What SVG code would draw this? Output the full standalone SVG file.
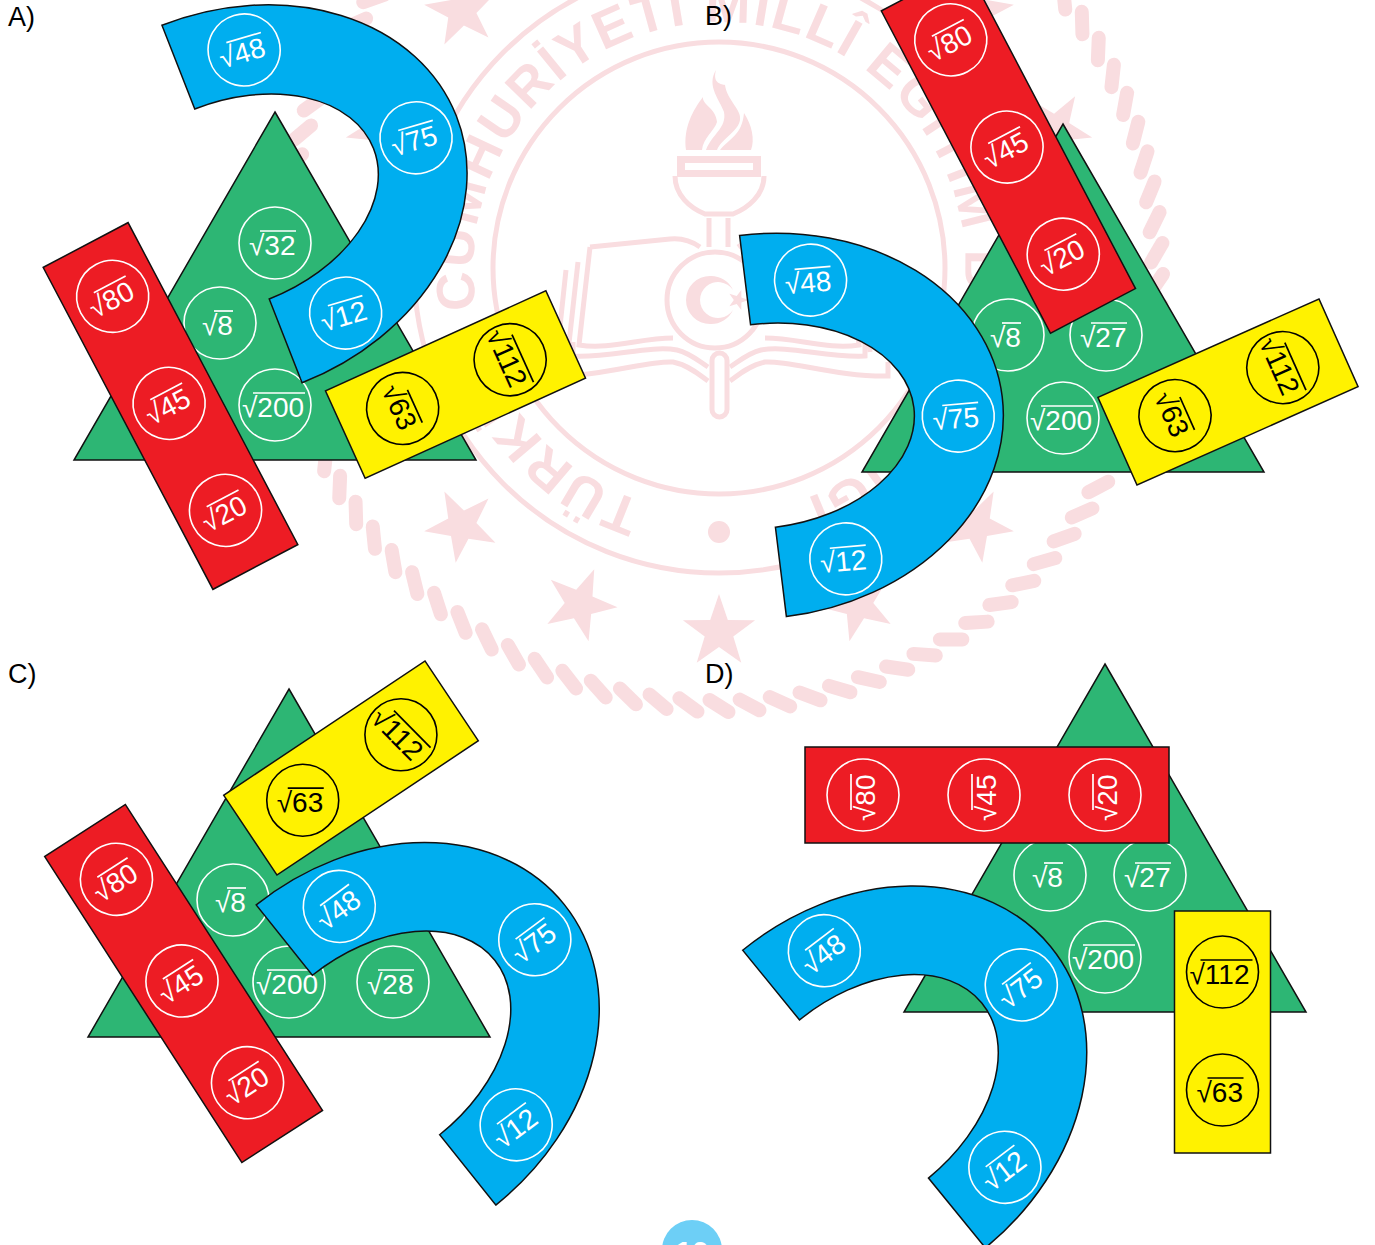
<svg xmlns="http://www.w3.org/2000/svg" xmlns:xlink="http://www.w3.org/1999/xlink" width="1375" height="1245" viewBox="0 0 1375 1245">
<style>
text{font-family:"Liberation Sans",Arial,sans-serif}
.wm{fill:#f9dde0;stroke:none}
.wl{fill:none;stroke:#f9dde0;stroke-width:5}
.wt{font-size:54px;font-weight:700;fill:#f9dde0}
.lb{font-size:27px;fill:#000}
.g,.r,.y,.s{stroke:#111;stroke-width:1.5}
.g{fill:#2db674}.r{fill:#ed1c24}.y{fill:#fff200}.s{fill:#00aeef}
.t circle{fill:none;stroke:#fff;stroke-width:1.6}
.t text{font-size:28px;fill:#fff}
.t path{fill:none;stroke:#fff;stroke-width:1.7}
.k circle{stroke:#000}.k text{fill:#000}.k path{stroke:#000}
</style>
<defs>
<line id="bead" x1="-9.5" y1="-444" x2="9.5" y2="-432" stroke="#f9dde0" stroke-width="14" stroke-linecap="round"/>
<g id="b3"><use href="#bead"/><use href="#bead" transform="rotate(4)"/><use href="#bead" transform="rotate(8)"/></g>
<g id="b9"><use href="#b3"/><use href="#b3" transform="rotate(12)"/><use href="#b3" transform="rotate(24)"/></g>
<polygon id="star" class="wm" points="0,38 -8.8,12.1 -36.1,11.7 -14.3,-4.6 -22.3,-30.7 0,-15 22.3,-30.7 14.3,-4.6 36.1,11.7 8.8,12.1"/>
<g id="page">
<path class="wl" d="M590 247L670 239C680 238 690 240 700 247"/>
<path class="wl" d="M590 247L579 345C610 350 640 338 673 338"/>
<path class="wl" d="M578 262L568 352M566 270L558 345"/>
<path class="wl" d="M573 342V356C610 358 650 345 677 350C690 353 700 362 708 367"/>
<path class="wl" d="M550 362V376C600 377 650 360 673 362C688 365 700 375 708 381"/>
</g>
<path id="blue" class="s" d="M0-192A241 192 0 0 1 0 192L0 102A152 102 0 0 0 0-102Z"/>
<rect id="redbar" class="r" x="-48" y="-182" width="96" height="364"/>
<rect id="yelbar" class="y" x="-48" y="-121" width="96" height="242"/>
<path id="tri" class="g" d="M0 0L201 348H-201Z"/>
</defs>
<rect width="1375" height="1245" fill="#fff"/>
<g id="watermark">
<g transform="translate(719 268)">
<use href="#b9"/><use href="#b9" transform="rotate(36)"/><use href="#b9" transform="rotate(72)"/><use href="#b9" transform="rotate(108)"/><use href="#b9" transform="rotate(144)"/><use href="#b9" transform="rotate(180)"/><use href="#b9" transform="rotate(216)"/><use href="#b9" transform="rotate(252)"/><use href="#b9" transform="rotate(288)"/><use href="#b9" transform="rotate(324)"/>
<use href="#star" transform="rotate(180) translate(0 -364)"/>
<use href="#star" transform="rotate(157.5) translate(0 -364)"/>
<use href="#star" transform="rotate(202.5) translate(0 -364)"/>
<use href="#star" transform="rotate(135) translate(0 -364)"/>
<use href="#star" transform="rotate(225) translate(0 -364)"/>
<use href="#star" transform="rotate(67.5) translate(0 -364)"/>
<use href="#star" transform="rotate(-67.5) translate(0 -364)"/>
<use href="#star" transform="rotate(45) translate(0 -364)"/>
<use href="#star" transform="rotate(-45) translate(0 -364)"/>
<circle class="wl" r="226" stroke-width="7"/>
<circle class="wl" r="305"/>
<circle class="wm" cy="264" r="11"/>
</g>
<path id="sealtext" fill="none" d="M643 502A246 246 0 1 1 807 498"/>
<text class="wt" textLength="1378"><textPath href="#sealtext">TÜRKİYE CUMHURİYETİ MİLLÎ EĞİTİM BAKANLIĞI</textPath></text>
<path class="wm" d="M686 150C683 128 693 110 703 97C702 105 716 108 717 122C715 130 703 138 702 150Z"/>
<path class="wm" d="M706 150C712 134 727 128 724 112C720 100 706 86 716 70C712 84 722 84 725 85C727 100 742 110 740 120C738 132 722 138 717 150Z"/>
<path class="wm" d="M720 150C730 138 742 135 744 113C752 125 755 140 751 150Z"/>
<path class="wm" fill-rule="evenodd" d="M677 156H761V177H677ZM685 163V170H753V163Z"/>
<path class="wl" d="M675 176C675 195 690 208 705 214H733C748 208 764 195 764 176"/>
<path class="wl" d="M709 218V247M728 218V247"/>
<circle class="wl" cx="715" cy="300" r="48"/>
<path class="wm" fill-rule="evenodd" d="M710 276A24 24 0 1 0 710 324A24 24 0 0 0 733 310A18 18 0 1 1 733 290A24 24 0 0 0 710 276Z"/>
<use href="#star" transform="translate(738 300) rotate(-90) scale(.28)"/>
<use href="#page"/>
<use href="#page" transform="translate(1438 0) scale(-1 1)"/>
<rect class="wl" x="712" y="353" width="15" height="64" rx="7.5"/>
</g>

<g id="option-A">
<text class="lb" x="8" y="26">A)</text>
<use href="#tri" transform="translate(275 112)"/>
<g class="t" transform="translate(275 243)"><circle r="36"/><text x="-26" y="12">√32</text><path d="M-15-12H21"/></g>
<g class="t" transform="translate(220 323)"><circle r="36"/><text x="-18" y="12">√8</text><path d="M-6-12H13"/></g>
<g class="t" transform="translate(275 405)"><circle r="36"/><text x="-33" y="12">√200</text><path d="M-22-12H30"/></g>
<g transform="translate(170.5 406) rotate(-27.8)"><use href="#redbar"/>
<g class="t" transform="translate(0 -124)"><circle r="36"/><text x="-26" y="12">√80</text><path d="M-15-12H21"/></g>
<g class="t" transform="translate(0 -3)"><circle r="36"/><text x="-26" y="12">√45</text><path d="M-15-12H21"/></g>
<g class="t" transform="translate(0 118)"><circle r="36"/><text x="-26" y="12">√20</text><path d="M-15-12H21"/></g></g>
<g transform="translate(232 204) rotate(-21.4)"><use href="#blue"/>
<g class="t" transform="translate(67.5 -139) rotate(5)"><circle r="36"/><text x="-26" y="12">√48</text><path d="M-15-12H21"/></g>
<g class="t" transform="translate(195.5 5.5) rotate(5)"><circle r="36"/><text x="-26" y="12">√75</text><path d="M-15-12H21"/></g>
<g class="t" transform="translate(66 143) rotate(5)"><circle r="36"/><text x="-26" y="12">√12</text><path d="M-15-12H21"/></g></g>
<g transform="translate(455.5 384.5) rotate(65.6)"><use href="#yelbar"/>
<g class="t k" transform="translate(0 -60)"><circle r="36"/><text x="-33" y="12">√112</text><path d="M-22-12H30"/></g>
<g class="t k" transform="translate(0 58)"><circle r="36"/><text x="-26" y="12">√63</text><path d="M-15-12H21"/></g></g>
</g>

<g id="option-B">
<text class="lb" x="705" y="25">B)</text>
<use href="#tri" transform="translate(1063 124)"/>
<g class="t" transform="translate(1008 335)"><circle r="36"/><text x="-18" y="12">√8</text><path d="M-6-12H13"/></g>
<g class="t" transform="translate(1106 335)"><circle r="36"/><text x="-26" y="12">√27</text><path d="M-15-12H21"/></g>
<g class="t" transform="translate(1063 418)"><circle r="36"/><text x="-33" y="12">√200</text><path d="M-22-12H30"/></g>
<g transform="translate(1008.4 149.7) rotate(-27.7)"><use href="#redbar"/>
<g class="t" transform="translate(0 -124)"><circle r="36"/><text x="-26" y="12">√80</text><path d="M-15-12H21"/></g>
<g class="t" transform="translate(0 -3)"><circle r="36"/><text x="-26" y="12">√45</text><path d="M-15-12H21"/></g>
<g class="t" transform="translate(0 118)"><circle r="36"/><text x="-26" y="12">√20</text><path d="M-15-12H21"/></g></g>
<g transform="translate(763 426) rotate(-7)"><use href="#blue"/>
<g class="t" transform="translate(65 -139) rotate(2)"><circle r="36"/><text x="-26" y="12">√48</text><path d="M-15-12H21"/></g>
<g class="t" transform="translate(195 14) rotate(2)"><circle r="36"/><text x="-26" y="12">√75</text><path d="M-15-12H21"/></g>
<g class="t" transform="translate(66 142) rotate(2)"><circle r="36"/><text x="-26" y="12">√12</text><path d="M-15-12H21"/></g></g>
<g transform="translate(1228 392) rotate(66)"><use href="#yelbar"/>
<g class="t k" transform="translate(0 -60)"><circle r="36"/><text x="-33" y="12">√112</text><path d="M-22-12H30"/></g>
<g class="t k" transform="translate(0 58)"><circle r="36"/><text x="-26" y="12">√63</text><path d="M-15-12H21"/></g></g>
</g>

<g id="option-C">
<text class="lb" x="8" y="683">C)</text>
<use href="#tri" transform="translate(289 689)"/>
<g class="t" transform="translate(233 900)"><circle r="36"/><text x="-18" y="12">√8</text><path d="M-6-12H13"/></g>
<g class="t" transform="translate(289 982)"><circle r="36"/><text x="-33" y="12">√200</text><path d="M-22-12H30"/></g>
<g class="t" transform="translate(393 982)"><circle r="36"/><text x="-26" y="12">√28</text><path d="M-15-12H21"/></g>
<g transform="translate(183.6 983.5) rotate(-32.8)"><use href="#redbar"/>
<g class="t" transform="translate(0 -124)"><circle r="36"/><text x="-26" y="12">√80</text><path d="M-15-12H21"/></g>
<g class="t" transform="translate(0 -3)"><circle r="36"/><text x="-26" y="12">√45</text><path d="M-15-12H21"/></g>
<g class="t" transform="translate(0 118)"><circle r="36"/><text x="-26" y="12">√20</text><path d="M-15-12H21"/></g></g>
<g transform="translate(376 1055) rotate(-38.6)"><use href="#blue"/>
<g class="t" transform="translate(64 -139) rotate(2)"><circle r="36"/><text x="-26" y="12">√48</text><path d="M-15-12H21"/></g>
<g class="t" transform="translate(196 9) rotate(2)"><circle r="36"/><text x="-26" y="12">√75</text><path d="M-15-12H21"/></g>
<g class="t" transform="translate(66 142) rotate(2)"><circle r="36"/><text x="-26" y="12">√12</text><path d="M-15-12H21"/></g></g>
<g transform="translate(351 768) rotate(56.3)"><use href="#yelbar"/>
<g class="t k" transform="translate(0 -60) rotate(-11)"><circle r="36"/><text x="-33" y="12">√112</text><path d="M-22-12H30"/></g>
<g class="t k" transform="translate(0 58) rotate(-56.3)"><circle r="36"/><text x="-26" y="12">√63</text><path d="M-15-12H21"/></g></g>
</g>

<g id="option-D">
<text class="lb" x="705" y="683">D)</text>
<use href="#tri" transform="translate(1105 664)"/>
<g class="t" transform="translate(1050 875)"><circle r="36"/><text x="-18" y="12">√8</text><path d="M-6-12H13"/></g>
<g class="t" transform="translate(1150 875)"><circle r="36"/><text x="-26" y="12">√27</text><path d="M-15-12H21"/></g>
<g class="t" transform="translate(1105 957)"><circle r="36"/><text x="-33" y="12">√200</text><path d="M-22-12H30"/></g>
<g transform="translate(987 795) rotate(-90)"><use href="#redbar"/>
<g class="t" transform="translate(0 -124)"><circle r="36"/><text x="-26" y="12">√80</text><path d="M-15-12H21"/></g>
<g class="t" transform="translate(0 -3)"><circle r="36"/><text x="-26" y="12">√45</text><path d="M-15-12H21"/></g>
<g class="t" transform="translate(0 118)"><circle r="36"/><text x="-26" y="12">√20</text><path d="M-15-12H21"/></g></g>
<g transform="translate(864 1099) rotate(-39.2)"><use href="#blue"/>
<g class="t" transform="translate(63 -140) rotate(2)"><circle r="36"/><text x="-26" y="12">√48</text><path d="M-15-12H21"/></g>
<g class="t" transform="translate(194 11) rotate(2)"><circle r="36"/><text x="-26" y="12">√75</text><path d="M-15-12H21"/></g>
<g class="t" transform="translate(66 142) rotate(2)"><circle r="36"/><text x="-26" y="12">√12</text><path d="M-15-12H21"/></g></g>
<g transform="translate(1222.5 1032)"><use href="#yelbar"/>
<g class="t k" transform="translate(0 -60)"><circle r="36"/><text x="-33" y="12">√112</text><path d="M-22-12H30"/></g>
<g class="t k" transform="translate(0 58)"><circle r="36"/><text x="-26" y="12">√63</text><path d="M-15-12H21"/></g></g>
</g>
<g id="page-number"><circle cx="692" cy="1250" r="30" fill="#6dcff6"/><text x="692" y="1262" text-anchor="middle" font-size="30" font-weight="700" fill="#fff">10</text></g>
</svg>
